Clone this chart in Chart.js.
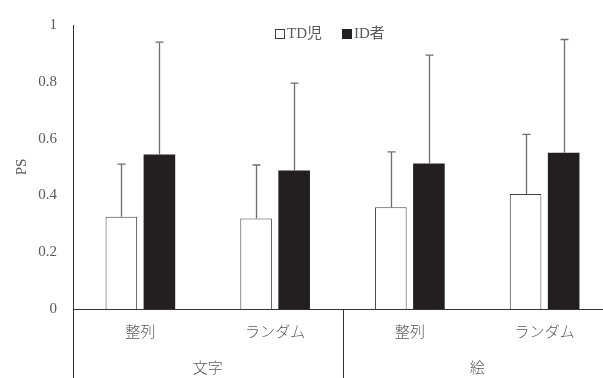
<!DOCTYPE html>
<html>
<head>
<meta charset="utf-8">
<script src="https://cdn.jsdelivr.net/npm/chart.js@4.4.0/dist/chart.umd.min.js"></script>
<style>
  html, body { margin: 0; padding: 0; background: #fff; overflow: hidden; }
  #wrap { width: 612px; height: 378px; }
</style>
</head>
<body>
<div id="wrap"><canvas id="barChart" width="612" height="378"></canvas></div>
<script>
// data
var categories = ['整列', 'ランダム', '整列', 'ランダム'];
var groups = ['文字', '絵'];
var seriesNames = ['TD児', 'ID者'];
var tdMeans = [0.325, 0.319, 0.358, 0.405];
var tdSD = [0.185, 0.188, 0.195, 0.21];
var idMeans = [0.544, 0.488, 0.512, 0.55];
var idSD = [0.396, 0.307, 0.382, 0.399];
var yTicks = [0, 0.2, 0.4, 0.6, 0.8, 1];

var serif = '"Liberation Serif", "Noto Sans CJK JP", serif';
var gothic = '"Noto Sans CJK JP", sans-serif';

// error bars (upper only), drawn through the chart scales
var errorBars = {
	id: 'errorBars',
	afterDatasetsDraw: function(chart) {
		var ctx = chart.ctx;
		var y = chart.scales.y;
		var sds = [tdSD, idSD];
		ctx.save();
		ctx.strokeStyle = '#6e6e6e';
		ctx.lineWidth = 1.3;
		chart.data.datasets.forEach(function(ds, di) {
			var meta = chart.getDatasetMeta(di);
			meta.data.forEach(function(bar, i) {
				var top = y.getPixelForValue(ds.data[i] + sds[di][i]);
				var x = Math.round(bar.x) + 0.5;
				ctx.beginPath();
				ctx.moveTo(x, bar.y);
				ctx.lineTo(x, top);
				ctx.moveTo(x - 4, top);
				ctx.lineTo(x + 4, top);
				ctx.stroke();
			});
		});
		ctx.restore();
	}
};

// group row under the category labels + legend
var extras = {
	id: 'extras',
	afterDraw: function(chart) {
		var ctx = chart.ctx;
		var xs = chart.scales.x;
		var area = chart.chartArea;
		var h = chart.height;
		ctx.save();
		ctx.strokeStyle = '#333';
		ctx.lineWidth = 1;
		// left axis continues down, divider between groups
		var left = Math.round(area.left) + 0.5;
		var mid = Math.round((xs.getPixelForValue(1) + xs.getPixelForValue(2)) / 2) + 0.5;
		ctx.beginPath();
		ctx.moveTo(left, area.bottom);
		ctx.lineTo(left, h);
		ctx.moveTo(mid, area.bottom);
		ctx.lineTo(mid, h);
		ctx.stroke();
		ctx.fillStyle = '#595959';
		ctx.font = '300 15px ' + gothic;
		ctx.textAlign = 'center';
		ctx.textBaseline = 'middle';
		ctx.fillText(groups[0], (xs.getPixelForValue(0) + xs.getPixelForValue(1)) / 2, 367);
		ctx.fillText(groups[1], (xs.getPixelForValue(2) + xs.getPixelForValue(3)) / 2, 367);

		// legend
		var lx = 275, ly = 34;
		ctx.textAlign = 'left';
		ctx.font = '15px ' + serif;
		ctx.fillStyle = '#fff';
		ctx.fillRect(lx + 0.5, ly - 4.5, 9, 9);
		ctx.strokeStyle = '#404040';
		ctx.strokeRect(lx + 0.5, ly - 4.5, 9, 9);
		ctx.fillStyle = '#595959';
		ctx.fillText(seriesNames[0], lx + 12, ly);
		var lx2 = 342;
		ctx.fillStyle = '#231f20';
		ctx.fillRect(lx2, ly - 5, 10, 10);
		ctx.fillStyle = '#595959';
		ctx.fillText(seriesNames[1], lx2 + 12, ly);
		ctx.restore();
	}
};

var ctx = document.getElementById('barChart').getContext('2d');
var barChart = new Chart(ctx, {
	type: 'bar',
	data: {
		labels: categories,
		datasets: [{
			label: seriesNames[0],
			data: tdMeans,
			backgroundColor: '#ffffff',
			borderColor: '#404040',
			borderWidth: 1,
			barPercentage: 0.83,
			categoryPercentage: 0.565
		}, {
			label: seriesNames[1],
			data: idMeans,
			backgroundColor: '#231f20',
			borderColor: '#231f20',
			borderWidth: 0,
			barPercentage: 0.83,
			categoryPercentage: 0.565
		}]
	},
	options: {
		responsive: false,
		animation: false,
		devicePixelRatio: 1,
		layout: { padding: { top: 23, right: 0, left: 0, bottom: 0 } },
		plugins: {
			legend: { display: false },
			tooltip: { enabled: false }
		},
		scales: {
			x: {
				grid: { display: false, drawTicks: false },
				border: { display: true, color: '#333', width: 1 },
				ticks: {
					color: '#595959',
					font: { family: gothic, size: 15, weight: '300' },
					padding: 13,
					maxRotation: 0,
					autoSkip: false
				},
				afterFit: function(scale) { scale.height = 69; }
			},
			y: {
				min: 0,
				max: 1,
				grid: { display: false, drawTicks: false },
				border: { display: true, color: '#333', width: 1 },
				afterBuildTicks: function(scale) {
					scale.ticks = yTicks.map(function(v) { return { value: v }; });
				},
				ticks: {
					color: '#595959',
					font: { family: serif, size: 15 },
					padding: 16,
					callback: function(v) { return String(v); }
				},
				title: {
					display: true,
					text: 'PS',
					color: '#595959',
					font: { family: serif, size: 15 },
					padding: { top: 13, bottom: 0 }
				},
				afterFit: function(scale) { scale.width = 73; }
			}
		}
	},
	plugins: [errorBars, extras]
});
</script>
</body>
</html>
